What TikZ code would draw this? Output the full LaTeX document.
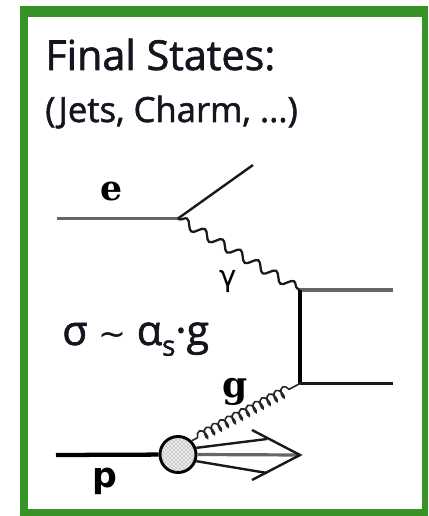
\documentclass[tikz,border=0pt]{standalone}
\usepackage{fontspec}
\setmainfont{Open Sans}[FakeBold=1.5]
\newfontfamily\symfont{DejaVu Sans}
\newfontfamily\boldserif{DejaVu Serif}[BoldFont={DejaVu Serif Bold}]
\newfontfamily\boldsans{DejaVu Sans}[BoldFont={DejaVu Sans Bold}]
\usetikzlibrary{decorations.pathmorphing,patterns}
\definecolor{framegreen}{HTML}{379325}
\definecolor{ink}{HTML}{15151F}
\tikzset{
  title/.style={anchor=base west,inner sep=0pt,text=ink},
  lbl/.style={anchor=center,inner sep=0pt,text=black},
  fermion/.style={line width=2.4pt,color=black!60},
  thin fermion/.style={line width=1.8pt,color=black!90},
  thick fermion/.style={line width=3.2pt,color=black},
  photon/.style={line width=1.7pt,color=black!90,decorate,decoration={snake,segment length=15.5pt,amplitude=3.4pt,pre length=1pt,post length=1pt}},
  gluon/.style={line width=1.2pt,color=black!85,decorate,decoration={coil,aspect=.5,segment length=5.9pt,amplitude=3.8pt,pre length=5pt,post length=5pt}},
  blob/.style={circle,draw=black,line width=2.2pt,minimum size=27pt,inner sep=0pt,fill=gray!15}
}
\begin{document}
\begin{tikzpicture}[x=.75pt,y=-.75pt]
\useasboundingbox (0,0) rectangle (428,516);
\fill[white] (0,0) rectangle (428,516);
\fill[framegreen] (20,6) rectangle (428,516);
\fill[white] (28,17) rectangle (422,509);
\node[title,font=\fontsize{31pt}{33pt}\selectfont] (t1) at (45,70) {Final States:};
\node[title,font=\fontsize{26pt}{28pt}\selectfont] (t2) at (45,122) {(Jets, Charm, ...)};
\coordinate (ein) at (57,218.5);
\coordinate (evtx) at (178,218.5);
\coordinate (eout) at (253,165);
\coordinate (qtop) at (300,290);
\coordinate (qbot) at (300,383.5);
\coordinate (qtopout) at (393,290);
\coordinate (qbotout) at (393,383.5);
\coordinate (pin) at (56,455);
\coordinate (tip) at (300,455);
\coordinate (barbup) at (252,430);
\coordinate (barbdn) at (252,480);
\node[blob] (prot) at (178,454.5) {};
\fill[pattern=crosshatch dots,pattern color=black!60] (178,454.5) circle (17.5);
\draw[fermion] (ein) -- (evtx);
\draw[thin fermion] (evtx) -- (eout);
\draw[photon] (evtx) -- (qtop);
\draw[fermion] (qtop) -- (qtopout);
\draw[line width=2.8pt] (qtop) -- (qbot);
\draw[thin fermion] (qbot) -- (qbotout);
\draw[gluon] (prot.north east) -- (qbot);
\draw[thick fermion] (pin) -- (prot);
\draw[fermion] (prot.east) -- (tip);
\draw[thin fermion] (prot.20) -- (267,439);
\draw[thin fermion] (prot.-20) -- (267,473);
\draw[thin fermion] (barbup) -- (tip) -- (barbdn);
\node[lbl,font=\boldserif\bfseries\fontsize{26pt}{28pt}\selectfont] (le) at (112,192) {e};
\node[lbl,font=\symfont\fontsize{22pt}{24pt}\selectfont] (lgamma) at (228,282) {γ};
\node[lbl,font=\boldserif\bfseries\fontsize{27pt}{29pt}\selectfont] (lg) at (235,392) {g};
\node[lbl,font=\boldsans\bfseries\fontsize{26pt}{28pt}\selectfont] (lp) at (105,481) {p};
\node[title,font=\fontsize{31pt}{33pt}\selectfont] (sig) at (62,345) {σ \symfont\fontsize{25pt}{26pt}\selectfont∼\ \rmfamily\fontsize{31pt}{33pt}\selectfont α\raisebox{-8pt}{\fontsize{21pt}{22pt}\selectfont s}·g};
\end{tikzpicture}
\end{document}
